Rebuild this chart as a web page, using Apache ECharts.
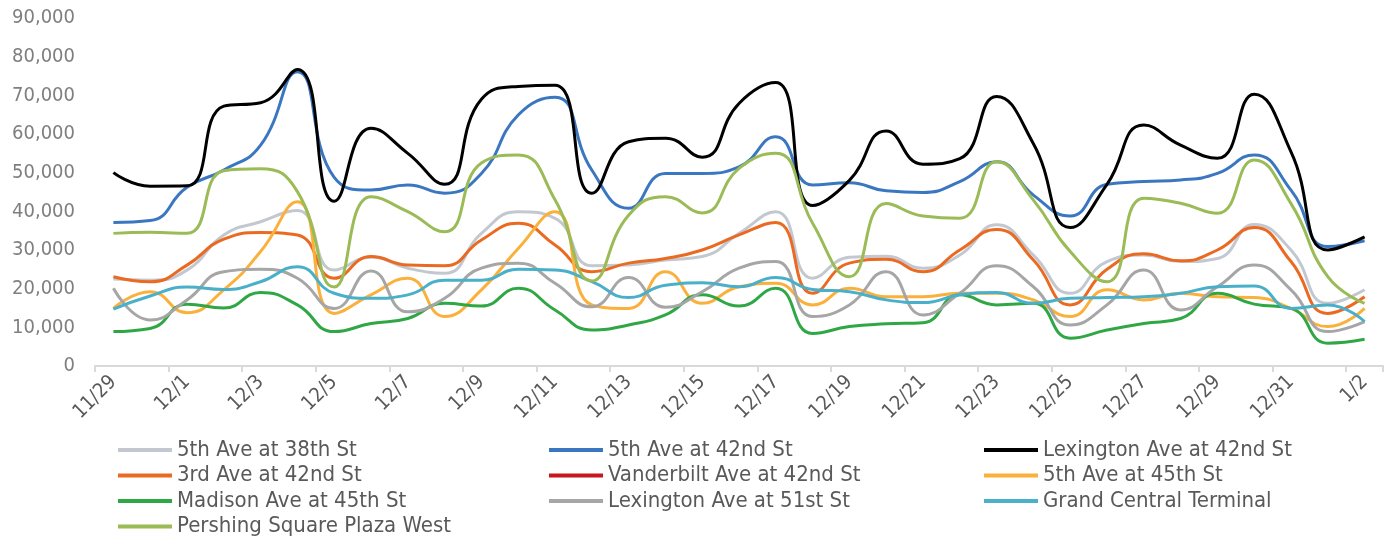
<!DOCTYPE html>
<html>
<head>
<meta charset="utf-8">
<script src="https://cdn.jsdelivr.net/npm/echarts@6/dist/echarts.min.js"></script>
<style>
  html, body { margin: 0; padding: 0; background: #ffffff; }
  #chart { width: 1390px; height: 542px; }
</style>
</head>
<body>
<div id="chart"></div>
<script>
// Daily pedestrian counts, 11/29 through 1/2
const dates = ['11/29','11/30','12/1','12/2','12/3','12/4','12/5','12/6','12/7','12/8','12/9','12/10',
  '12/11','12/12','12/13','12/14','12/15','12/16','12/17','12/18','12/19','12/20','12/21','12/22',
  '12/23','12/24','12/25','12/26','12/27','12/28','12/29','12/30','12/31','1/1','1/2'];

const fifthAt38 = [22500,22200,24800,33900,37300,40200,24800,28100,25300,24000,34300,39900,
  38200,25900,26100,27400,28300,34300,39900,22700,28100,28400,25300,28700,
  36500,28700,18800,27000,28700,27000,27800,36600,30000,16200,19700];
const fifthAt42 = [37100,37600,46200,50700,57100,76100,48800,45500,46800,44700,49800,64900,
  69500,50700,40800,49800,49800,51500,59300,46800,47400,45300,44900,47700,
  52800,44200,38800,47000,47700,48100,49800,54600,45500,30900,32400];
const lexAt42 = [50000,46500,46600,67200,68100,76700,42600,61500,55000,47000,69000,72300,
  72600,44700,58000,58900,54000,67900,73300,41500,48000,60800,52200,53600,
  69700,57500,35800,47000,62300,57100,53700,70300,55400,30000,33400];
const thirdAt42 = [23100,21800,26100,32800,34500,33900,22700,28300,26100,25900,32600,36900,
  31300,24400,26600,27800,30000,33900,37100,18800,26600,27600,24400,30000,
  35300,27400,15800,25000,29000,27200,30000,35800,27000,13600,17900];
const vanderbiltAt42 = dates.map(() => null);
const fifthAt45 = [14900,19200,13800,19700,29600,42500,13600,18400,22700,12800,19700,30400,
  39900,15800,14900,24400,16200,20500,21400,15800,20100,17900,17900,18800,
  18800,17100,12800,19700,17100,18800,17900,17700,14900,10200,14900];
const madisonAt45 = [8900,9700,16000,15000,19000,15800,8900,11000,12300,16200,15500,20100,
  14500,9300,10600,13200,18400,15500,20100,8400,10200,10900,11200,18400,
  15800,16200,7200,9300,11000,12300,18800,16000,14900,5900,6900];
const lexAt51 = [20100,11900,17100,24400,25000,22700,14900,24600,14000,17500,25300,26600,
  21400,15300,22900,15200,19200,25300,27000,12800,15800,24400,13200,18800,
  25900,20500,10600,15800,24800,14500,20500,26100,19700,8900,11500];
const grandCentral = [14700,18100,20400,19800,21800,25700,18800,17500,18400,22200,22200,25000,
  24800,21800,17700,20900,21500,20500,22900,19800,19200,17100,16400,18400,
  19000,16200,17500,17700,17900,18800,20500,20700,14900,15800,11500];
const pershingWest = [34300,34600,34300,50500,51000,45100,20400,43800,39900,34700,52500,54600,
  43000,22000,39000,43800,39600,51100,55000,36900,23100,42000,38800,38200,
  52800,42900,29600,21800,43400,42100,39500,53300,42000,23100,16200];

const yTicks = { min: 0, max: 90000, step: 10000 };

const seriesDefs = [
  { name: '5th Ave at 38th St',         data: fifthAt38,      color: '#c3c8d0' },
  { name: '5th Ave at 42nd St',         data: fifthAt42,      color: '#3a77c0' },
  { name: 'Lexington Ave at 42nd St',   data: lexAt42,        color: '#000000' },
  { name: '3rd Ave at 42nd St',         data: thirdAt42,      color: '#ea6a22' },
  { name: 'Vanderbilt Ave at 42nd St',  data: vanderbiltAt42, color: '#c8161d' },
  { name: '5th Ave at 45th St',         data: fifthAt45,      color: '#fbb03b' },
  { name: 'Madison Ave at 45th St',     data: madisonAt45,    color: '#30a745' },
  { name: 'Lexington Ave at 51st St',   data: lexAt51,        color: '#a6a6a6' },
  { name: 'Grand Central Terminal',     data: grandCentral,   color: '#4aafc9' },
  { name: 'Pershing Square Plaza West', data: pershingWest,   color: '#9bbb57' }
];

const FONT = "'Liberation Sans Narrow', 'DejaVu Sans Condensed', 'Liberation Sans', sans-serif";

// Three legend columns, filled row by row in series order
const legendBase = {
  orient: 'vertical',
  top: 439,
  height: 103,
  padding: 0,
  icon: 'rect',
  itemWidth: 54,
  itemHeight: 4,
  itemGap: 3.5,
  selectedMode: false,
  textStyle: { color: '#595959', fontSize: 22, fontFamily: FONT, lineHeight: 22 }
};

const chart = echarts.init(document.getElementById('chart'), null, { renderer: 'canvas' });
chart.setOption({
  animation: false,
  backgroundColor: '#ffffff',
  grid: { left: 95, right: 7, top: 18, bottom: 176, containLabel: false },
  legend: [
    Object.assign({}, legendBase, { left: 118, data: [seriesDefs[0].name, seriesDefs[3].name, seriesDefs[6].name, seriesDefs[9].name] }),
    Object.assign({}, legendBase, { left: 549, data: [seriesDefs[1].name, seriesDefs[4].name, seriesDefs[7].name] }),
    Object.assign({}, legendBase, { left: 984, data: [seriesDefs[2].name, seriesDefs[5].name, seriesDefs[8].name] })
  ],
  xAxis: {
    type: 'category',
    data: dates,
    boundaryGap: true,
    axisLine: { lineStyle: { color: '#d9d9d9', width: 2 } },
    axisTick: { show: true, interval: 1, length: 6, lineStyle: { color: '#d9d9d9', width: 2 } },
    axisLabel: {
      interval: 1,
      rotate: 45,
      margin: 13,
      color: '#595959',
      fontSize: 20,
      fontFamily: FONT
    },
    splitLine: { show: false }
  },
  yAxis: {
    type: 'value',
    min: yTicks.min,
    max: yTicks.max,
    interval: yTicks.step,
    axisLine: { show: false },
    axisTick: { show: false },
    splitLine: { show: false },
    axisLabel: {
      margin: 20,
      color: '#7f7f7f',
      fontSize: 20,
      fontFamily: FONT,
      formatter: v => v.toLocaleString('en-US')
    }
  },
  series: seriesDefs.map(s => ({
    name: s.name,
    type: 'line',
    data: s.data,
    smooth: 0.5,
    symbol: 'none',
    showSymbol: false,
    connectNulls: false,
    color: s.color,
    lineStyle: { color: s.color, width: 3 },
    itemStyle: { color: s.color }
  }))
});
</script>
</body>
</html>
